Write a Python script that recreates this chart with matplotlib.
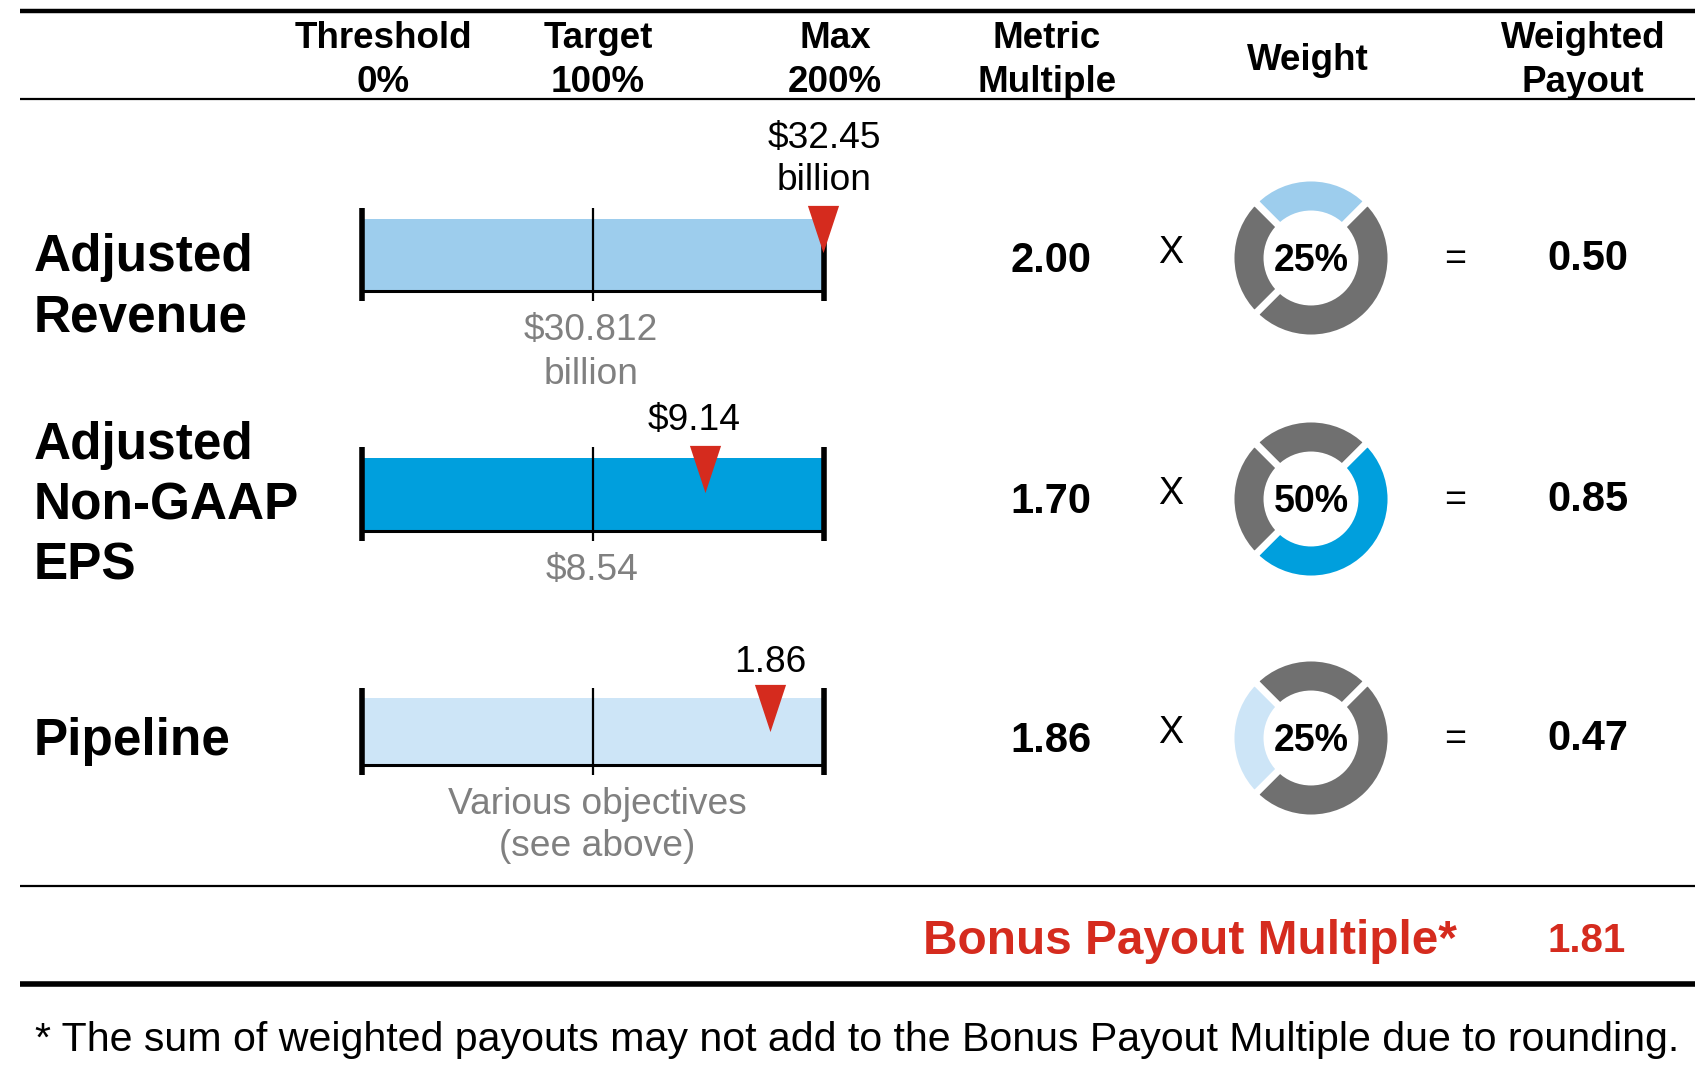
import matplotlib
matplotlib.use("Agg")
import matplotlib.pyplot as plt
import numpy as np

plt.rcParams['font.family'] = ['Liberation Sans', 'DejaVu Sans']

# ---------------- data ----------------
categories = ["Adjusted\nRevenue", "Adjusted\nNon-GAAP\nEPS", "Pipeline"]
scale_ticks = [0, 100, 200]                      # threshold / target / max (%)
scale_header = ["Threshold\n0%", "Target\n100%", "Max\n200%"]
marker_pos = [199.5, 148.5, 176.5]               # position of actual result on 0-200 scale
actual_labels = ["$32.45\nbillion", "$9.14", "1.86"]
target_labels = ["$30.812\nbillion", "$8.54", "Various objectives\n(see above)"]
metric_multiple = [2.00, 1.70, 1.86]
weights = [25, 50, 25]
weighted_payout = [0.50, 0.85, 0.47]
bonus_label = "Bonus Payout Multiple*"
bonus_multiple = 1.81
footnote = "* The sum of weighted payouts may not add to the Bonus Payout Multiple due to rounding."

# ---------------- style ----------------
row_colors = ["#9DCDED", "#009FDD", "#CDE5F7"]
gray = "#707070"
red = "#D52B1E"
label_gray = "#808080"

W, H = 1698, 1085
fig = plt.figure(figsize=(W / 100, H / 100), dpi=100)
ax = fig.add_axes([0, 0, 1, 1])
ax.set_xlim(0, W)
ax.set_ylim(H, 0)
ax.axis('off')


def px_axes(x0, y0, x1, y1):
    return fig.add_axes([x0 / W, 1 - y1 / H, (x1 - x0) / W, (y1 - y0) / H])


# rules
ax.plot([20, 1695], [11, 11], color='black', lw=3.2, solid_capstyle='butt')
ax.plot([20, 1695], [99, 99], color='black', lw=1.6, solid_capstyle='butt')
ax.plot([20, 1695], [886, 886], color='black', lw=1.6, solid_capstyle='butt')
ax.plot([20, 1695], [984, 984], color='black', lw=4.0, solid_capstyle='butt')

# header
hdr_fs = 26.5
header_x = [383, 598, 835]
bar_x0, bar_x1 = 362, 824
for xc, lab in zip(header_x, scale_header):
    for k, line in enumerate(lab.split("\n")):
        ax.text(xc, 39 + 43 * k, line, ha='center', va='center',
                fontsize=hdr_fs, fontweight='bold')
ax.text(1047, 39, "Metric", ha='center', va='center', fontsize=hdr_fs, fontweight='bold')
ax.text(1047, 82, "Multiple", ha='center', va='center', fontsize=hdr_fs, fontweight='bold')
ax.text(1308, 60, "Weight", ha='center', va='center', fontsize=hdr_fs, fontweight='bold')
ax.text(1583, 39, "Weighted", ha='center', va='center', fontsize=hdr_fs, fontweight='bold')
ax.text(1583, 82, "Payout", ha='center', va='center', fontsize=hdr_fs, fontweight='bold')

# row geometry (pixel layout)
row_tick_span = [(208, 301), (447, 541), (688, 775)]
row_center = [258, 499, 738]
row_label_y = [[258, 318], [446, 506, 566], [741]]
actual_label_xy = [(824, [138, 181]), (694, [421]), (770, [662])]
target_label_xy = [(591, [331, 374]), (592, [570]), (597, [804, 847])]

for i in range(3):
    # category label
    for k, line in enumerate(categories[i].split("\n")):
        ax.text(34, row_label_y[i][k], line, ha='left', va='center',
                fontsize=37, fontweight='bold')

    # bullet bar
    y0, y1 = row_tick_span[i]
    bax = px_axes(bar_x0, y0, bar_x1, y1)
    bax.set_xlim(scale_ticks[0], scale_ticks[-1])
    bax.set_ylim(0, 1)
    bax.axis('off')
    bax.barh(0.495, scale_ticks[-1] - scale_ticks[0], left=scale_ticks[0],
             height=0.77, color=row_colors[i], zorder=1)
    bax.plot([scale_ticks[0], scale_ticks[-1]], [0.11, 0.11], color='black',
             lw=2.2, zorder=2, clip_on=False, solid_capstyle='butt')
    bax.vlines([scale_ticks[0], scale_ticks[-1]], 0, 1, color='black', lw=4.0,
               zorder=3, clip_on=False)
    bax.vlines([scale_ticks[1]], 0, 1, color='black', lw=1.6, zorder=3, clip_on=False)
    tri = [(-0.33, 0.5), (0.33, 0.5), (0, -0.5), (-0.33, 0.5)]
    bax.plot([marker_pos[i]], [0.77], marker=tri, markersize=34, color=red,
             markeredgewidth=0, zorder=4, clip_on=False)

    # labels around bar
    xa, ys = actual_label_xy[i]
    for k, line in enumerate(actual_labels[i].split("\n")):
        ax.text(xa, ys[k], line, ha='center', va='center', fontsize=26.7, color='black')
    xt, ys = target_label_xy[i]
    for k, line in enumerate(target_labels[i].split("\n")):
        ax.text(xt, ys[k], line, ha='center', va='center', fontsize=26.7, color=label_gray)

    yc = row_center[i]
    ax.text(1051, yc + 3, f"{metric_multiple[i]:.2f}", ha='center', va='center',
            fontsize=30, fontweight='bold')
    ax.text(1171, yc - 5, "X", ha='center', va='center', fontsize=27)
    ax.text(1455, yc + 2, "=", ha='center', va='center', fontsize=27)
    ax.text(1588, yc + 1, f"{weighted_payout[i]:.2f}", ha='center', va='center',
            fontsize=30, fontweight='bold')

    # donut
    r = 80
    dax = px_axes(1311 - r, yc - r, 1311 + r, yc + r)
    cols = [row_colors[j] if j == i else gray for j in range(3)]
    dax.pie(weights, colors=cols, startangle=135, counterclock=False, radius=1,
            wedgeprops=dict(width=0.45, edgecolor='white', linewidth=5))
    dax.set_xlim(-1, 1)
    dax.set_ylim(-1, 1)
    dax.set_aspect('equal')
    dax.text(0, -0.04, f"{weights[i]}%", ha='center', va='center',
             fontsize=27, fontweight='bold')

# bonus row
ax.text(1457, 941, bonus_label, ha='right', va='center', fontsize=34.4,
        fontweight='bold', color=red)
ax.text(1587, 941, f"{bonus_multiple:.2f}", ha='center', va='center', fontsize=29,
        fontweight='bold', color=red)

# footnote
ax.text(35, 1040, footnote, ha='left', va='center', fontsize=29.6)

fig.savefig("out.png", dpi=100)
